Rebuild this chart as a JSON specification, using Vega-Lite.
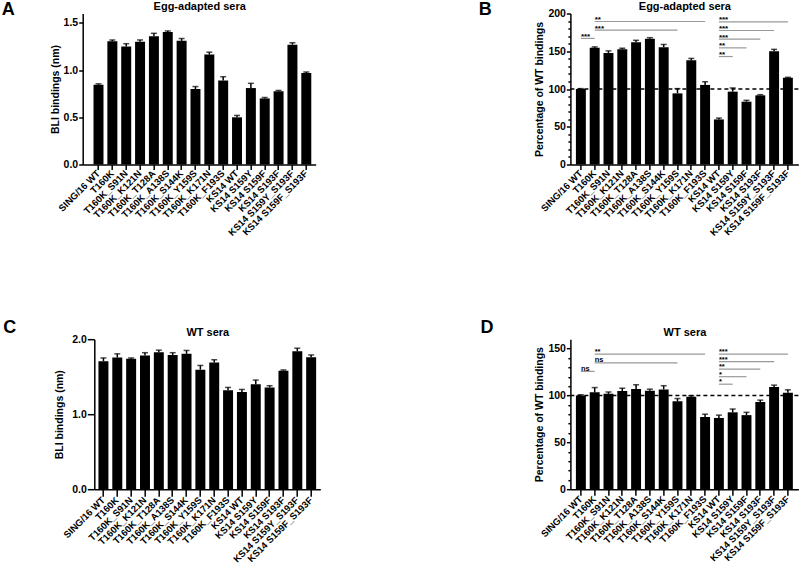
{
  "$schema": "https://vega.github.io/schema/vega-lite/v6.json",
  "background": "white",
  "padding": {"left": 1.7, "top": 0.5, "right": 0, "bottom": 0},
  "datasets": {
    "bars": [
      {"panel": "A", "label": "SING/16 WT", "value": 0.845, "upper": 0.855},
      {"panel": "A", "label": "T160K", "value": 1.305, "upper": 1.32},
      {"panel": "A", "label": "T160K_S91N", "value": 1.25, "upper": 1.28},
      {"panel": "A", "label": "T160K_K121N", "value": 1.30, "upper": 1.32},
      {"panel": "A", "label": "T160K_T128A", "value": 1.36, "upper": 1.39},
      {"panel": "A", "label": "T160K_A138S", "value": 1.405, "upper": 1.415},
      {"panel": "A", "label": "T160K_S144K", "value": 1.31, "upper": 1.335},
      {"panel": "A", "label": "T160K_Y159S", "value": 0.80, "upper": 0.826},
      {"panel": "A", "label": "T160K_K171N", "value": 1.165, "upper": 1.19},
      {"panel": "A", "label": "T160K_F193S", "value": 0.89, "upper": 0.93},
      {"panel": "A", "label": "KS14 WT", "value": 0.50, "upper": 0.52},
      {"panel": "A", "label": "KS14 S159Y", "value": 0.81, "upper": 0.86},
      {"panel": "A", "label": "KS14 S159F", "value": 0.70, "upper": 0.71},
      {"panel": "A", "label": "KS14 S193F", "value": 0.776, "upper": 0.785},
      {"panel": "A", "label": "KS14 S159Y_S193F", "value": 1.27, "upper": 1.29},
      {"panel": "A", "label": "KS14 S159F_S193F", "value": 0.97, "upper": 0.98},
      {"panel": "B", "label": "SING/16 WT", "value": 100, "upper": 100.5},
      {"panel": "B", "label": "T160K", "value": 154.5, "upper": 155.8},
      {"panel": "B", "label": "T160K_S91N", "value": 147.8, "upper": 150.5},
      {"panel": "B", "label": "T160K_K121N", "value": 152.6, "upper": 154},
      {"panel": "B", "label": "T160K_T128A", "value": 162, "upper": 164.5},
      {"panel": "B", "label": "T160K_A138S", "value": 166.4, "upper": 168},
      {"panel": "B", "label": "T160K_S144K", "value": 155.3, "upper": 159},
      {"panel": "B", "label": "T160K_Y159S", "value": 94.2, "upper": 100.5},
      {"panel": "B", "label": "T160K_K171N", "value": 138, "upper": 140.5},
      {"panel": "B", "label": "T160K_F193S", "value": 105.4, "upper": 109.6},
      {"panel": "B", "label": "KS14 WT", "value": 59.7, "upper": 61.5},
      {"panel": "B", "label": "KS14 S159Y", "value": 96.5, "upper": 101.4},
      {"panel": "B", "label": "KS14 S159F", "value": 83.2, "upper": 85},
      {"panel": "B", "label": "KS14 S193F", "value": 91.6, "upper": 92.5},
      {"panel": "B", "label": "KS14 S159Y_S193F", "value": 150, "upper": 152.5},
      {"panel": "B", "label": "KS14 S159F_S193F", "value": 115, "upper": 115.5},
      {"panel": "C", "label": "SING/16 WT", "value": 1.707, "upper": 1.75},
      {"panel": "C", "label": "T160K", "value": 1.756, "upper": 1.805},
      {"panel": "C", "label": "T160K_S91N", "value": 1.739, "upper": 1.75},
      {"panel": "C", "label": "T160K_K121N", "value": 1.783, "upper": 1.82},
      {"panel": "C", "label": "T160K_T128A", "value": 1.827, "upper": 1.854},
      {"panel": "C", "label": "T160K_A138S", "value": 1.79, "upper": 1.82},
      {"panel": "C", "label": "T160K_S144K", "value": 1.805, "upper": 1.85},
      {"panel": "C", "label": "T160K_Y159S", "value": 1.593, "upper": 1.65},
      {"panel": "C", "label": "T160K_K171N", "value": 1.69, "upper": 1.726},
      {"panel": "C", "label": "T160K_F193S", "value": 1.32, "upper": 1.357},
      {"panel": "C", "label": "KS14 WT", "value": 1.295, "upper": 1.33},
      {"panel": "C", "label": "KS14 S159Y", "value": 1.40, "upper": 1.455},
      {"panel": "C", "label": "KS14 S159F", "value": 1.357, "upper": 1.38},
      {"panel": "C", "label": "KS14 S193F", "value": 1.58, "upper": 1.59},
      {"panel": "C", "label": "KS14 S159Y_S193F", "value": 1.84, "upper": 1.88},
      {"panel": "C", "label": "KS14 S159F_S193F", "value": 1.76, "upper": 1.79},
      {"panel": "D", "label": "SING/16 WT", "value": 100, "upper": 100.7},
      {"panel": "D", "label": "T160K", "value": 103.4, "upper": 108.4},
      {"panel": "D", "label": "T160K_S91N", "value": 101.7, "upper": 103.7},
      {"panel": "D", "label": "T160K_K121N", "value": 104.7, "upper": 107.7},
      {"panel": "D", "label": "T160K_T128A", "value": 107, "upper": 111.4},
      {"panel": "D", "label": "T160K_A138S", "value": 105, "upper": 106.7},
      {"panel": "D", "label": "T160K_S144K", "value": 106.4, "upper": 110.4},
      {"panel": "D", "label": "T160K_Y159S", "value": 93.7, "upper": 96.7},
      {"panel": "D", "label": "T160K_K171N", "value": 98.7, "upper": 99.7},
      {"panel": "D", "label": "T160K_F193S", "value": 77, "upper": 80},
      {"panel": "D", "label": "KS14 WT", "value": 76, "upper": 79},
      {"panel": "D", "label": "KS14 S159Y", "value": 82, "upper": 85.5},
      {"panel": "D", "label": "KS14 S159F", "value": 79, "upper": 82},
      {"panel": "D", "label": "KS14 S193F", "value": 93, "upper": 95},
      {"panel": "D", "label": "KS14 S159Y_S193F", "value": 109, "upper": 111},
      {"panel": "D", "label": "KS14 S159F_S193F", "value": 103, "upper": 106}
    ],
    "sig": [
      {"panel": "B", "start": "SING/16 WT", "end": "T160K", "y": 167, "label": "***"},
      {"panel": "B", "start": "T160K", "end": "T160K_Y159S", "y": 178, "label": "***"},
      {"panel": "B", "start": "T160K", "end": "T160K_F193S", "y": 189.4, "label": "**"},
      {"panel": "B", "start": "KS14 WT", "end": "KS14 S159F_S193F", "y": 189, "label": "***"},
      {"panel": "B", "start": "KS14 WT", "end": "KS14 S159Y_S193F", "y": 177.5, "label": "***"},
      {"panel": "B", "start": "KS14 WT", "end": "KS14 S193F", "y": 166, "label": "***"},
      {"panel": "B", "start": "KS14 WT", "end": "KS14 S159F", "y": 154.5, "label": "**"},
      {"panel": "B", "start": "KS14 WT", "end": "KS14 S159Y", "y": 143, "label": "**"},
      {"panel": "D", "start": "SING/16 WT", "end": "T160K", "y": 125.7, "label": "ns"},
      {"panel": "D", "start": "T160K", "end": "T160K_Y159S", "y": 134.7, "label": "ns"},
      {"panel": "D", "start": "T160K", "end": "T160K_F193S", "y": 144, "label": "**"},
      {"panel": "D", "start": "KS14 WT", "end": "KS14 S159F_S193F", "y": 144, "label": "***"},
      {"panel": "D", "start": "KS14 WT", "end": "KS14 S159Y_S193F", "y": 136, "label": "***"},
      {"panel": "D", "start": "KS14 WT", "end": "KS14 S193F", "y": 128, "label": "**"},
      {"panel": "D", "start": "KS14 WT", "end": "KS14 S159F", "y": 120, "label": "*"},
      {"panel": "D", "start": "KS14 WT", "end": "KS14 S159Y", "y": 112, "label": "*"}
    ]
  },
  "config": {
    "view": {"stroke": null},
    "font": "Liberation Sans",
    "axis": {
      "grid": false,
      "domainColor": "black", "domainWidth": 1.5,
      "tickColor": "black", "tickWidth": 1.5,
      "labelColor": "black", "labelFont": "Liberation Sans", "labelFontWeight": "bold", "labelFontSize": 10.5,
      "titleColor": "black", "titleFont": "Liberation Sans", "titleFontWeight": "bold", "titleFontSize": 10.5
    },
    "title": {"fontSize": 18, "fontWeight": "bold", "color": "black", "font": "Liberation Sans", "anchor": "start", "frame": "group", "baseline": "alphabetic"}
  },
  "columns": 2,
  "bounds": "flush",
  "spacing": {"row": 174.7, "column": 249.7},
  "concat": [
    {
      "width": 233, "height": 151,
      "title": {"text": "A", "dx": -81, "offset": -18.3},
      "data": {"name": "bars"},
      "transform": [{"filter": "datum.panel === 'A'"}],
      "layer": [
        {
          "mark": {"type": "bar", "color": "black"},
          "encoding": {
            "x": {"field": "label", "type": "nominal",
              "scale": {"domain": ["SING/16 WT","T160K","T160K_S91N","T160K_K121N","T160K_T128A","T160K_A138S","T160K_S144K","T160K_Y159S","T160K_K171N","T160K_F193S","KS14 WT","KS14 S159Y","KS14 S159F","KS14 S193F","KS14 S159Y_S193F","KS14 S159F_S193F"], "paddingInner": 0.28, "paddingOuter": 0.55, "align": 0.71},
              "axis": {"orient": "bottom", "title": null, "labelAngle": -45, "labelAlign": "right", "labelBaseline": "middle", "labelFontSize": 9.5, "tickSize": 5, "labelPadding": 2, "labelOverlap": false}},
            "y": {"field": "value", "type": "quantitative", "title": "BLI bindings (nm)",
              "scale": {"domain": [0, 1.5]},
              "axis": {"values": [0, 0.5, 1, 1.5], "format": ".1f", "tickSize": 4, "labelPadding": 1, "titlePadding": 3, "labelOverlap": false}}
          }
        },
        {
          "mark": {"type": "rule", "color": "black", "strokeWidth": 1.5},
          "encoding": {
            "x": {"field": "label", "type": "nominal", "axis": null},
            "y": {"field": "value", "type": "quantitative", "title": "BLI bindings (nm)"},
            "y2": {"field": "upper"}
          }
        },
        {
          "mark": {"type": "tick", "color": "black", "thickness": 1.5, "size": 6},
          "encoding": {
            "x": {"field": "label", "type": "nominal",
              "axis": {"orient": "top", "domain": false, "ticks": false, "labels": false, "minExtent": 0, "maxExtent": 0, "title": "Egg-adapted sera", "titlePadding": 2, "titleFontSize": 11}},
            "y": {"field": "upper", "type": "quantitative", "title": "BLI bindings (nm)"}
          }
        }
      ],
      "resolve": {"axis": {"x": "independent"}}
    },
    {
      "width": 228, "height": 151,
      "title": {"text": "B", "dx": -91.7, "offset": -18.3},
      "layer": [
        {
          "data": {"name": "bars"},
          "transform": [{"filter": "datum.panel === 'B'"}],
          "mark": {"type": "bar", "color": "black"},
          "encoding": {
            "x": {"field": "label", "type": "nominal",
              "scale": {"domain": ["SING/16 WT","T160K","T160K_S91N","T160K_K121N","T160K_T128A","T160K_A138S","T160K_S144K","T160K_Y159S","T160K_K171N","T160K_F193S","KS14 WT","KS14 S159Y","KS14 S159F","KS14 S193F","KS14 S159Y_S193F","KS14 S159F_S193F"], "paddingInner": 0.28, "paddingOuter": 0.4},
              "axis": {"orient": "bottom", "title": null, "labelAngle": -45, "labelAlign": "right", "labelBaseline": "middle", "labelFontSize": 9.5, "tickSize": 5, "labelPadding": 2, "labelOverlap": false}},
            "y": {"field": "value", "type": "quantitative", "title": "Percentage of WT bindings",
              "scale": {"domain": [0, 200]},
              "axis": {"orient": "left", "values": [0, 50, 100, 150, 200], "tickSize": 4, "labelPadding": 1, "titlePadding": 3, "labelOverlap": false}}
          }
        },
        {
          "data": {"name": "bars"},
          "transform": [{"filter": "datum.panel === 'B'"}],
          "mark": {"type": "rule", "color": "black", "strokeWidth": 1.5},
          "encoding": {
            "x": {"field": "label", "type": "nominal", "axis": null},
            "y": {"field": "value", "type": "quantitative", "axis": null},
            "y2": {"field": "upper"}
          }
        },
        {
          "data": {"name": "bars"},
          "transform": [{"filter": "datum.panel === 'B'"}],
          "mark": {"type": "tick", "color": "black", "thickness": 1.5, "size": 6},
          "encoding": {
            "x": {"field": "label", "type": "nominal",
              "axis": {"orient": "top", "domain": false, "ticks": false, "labels": false, "minExtent": 0, "maxExtent": 0, "title": "Egg-adapted sera", "titlePadding": 2, "titleFontSize": 11}},
            "y": {"field": "upper", "type": "quantitative",
              "axis": {"orient": "left", "values": [10,20,30,40,60,70,80,90,110,120,130,140,160,170,180,190], "labels": false, "domain": false, "tickSize": 2.5, "title": null, "minExtent": 0, "maxExtent": 0}}
          }
        },
        {
          "data": {"values": [{"ref": 100}]},
          "mark": {"type": "rule", "color": "black", "strokeWidth": 1.5, "strokeDash": [4, 3]},
          "encoding": {
            "y": {"field": "ref", "type": "quantitative", "axis": null}
          }
        },
        {
          "data": {"name": "sig"},
          "transform": [{"filter": "datum.panel === 'B'"}],
          "mark": {"type": "rule", "color": "#999999", "strokeWidth": 1.2},
          "encoding": {
            "x": {"field": "start", "type": "nominal", "axis": null},
            "x2": {"field": "end"},
            "y": {"field": "y", "type": "quantitative", "axis": null}
          }
        },
        {
          "data": {"name": "sig"},
          "transform": [{"filter": "datum.panel === 'B'"}],
          "mark": {"type": "text", "align": "left", "baseline": "alphabetic", "dy": 0.5, "fontSize": 8, "fontWeight": "bold", "color": "black"},
          "encoding": {
            "x": {"field": "start", "type": "nominal", "axis": null},
            "y": {"field": "y", "type": "quantitative", "axis": null},
            "text": {"field": "label"}
          }
        }
      ],
      "resolve": {"axis": {"x": "independent", "y": "independent"}}
    },
    {
      "width": 237.6, "height": 150,
      "title": {"text": "C", "dx": -79.4, "offset": -10.6},
      "data": {"name": "bars"},
      "transform": [{"filter": "datum.panel === 'C'"}],
      "layer": [
        {
          "mark": {"type": "bar", "color": "black"},
          "encoding": {
            "x": {"field": "label", "type": "nominal",
              "scale": {"domain": ["SING/16 WT","T160K","T160K_S91N","T160K_K121N","T160K_T128A","T160K_A138S","T160K_S144K","T160K_Y159S","T160K_K171N","T160K_F193S","KS14 WT","KS14 S159Y","KS14 S159F","KS14 S193F","KS14 S159Y_S193F","KS14 S159F_S193F"], "range": [11.6, 237.6], "paddingInner": 0.28, "paddingOuter": 0.3},
              "axis": {"orient": "bottom", "title": null, "labelAngle": -45, "labelAlign": "right", "labelBaseline": "middle", "labelFontSize": 9.5, "tickSize": 7, "labelPadding": 2, "labelOverlap": false}},
            "y": {"field": "value", "type": "quantitative", "title": "BLI bindings (nm)",
              "scale": {"domain": [0, 2]},
              "axis": {"offset": -11.6, "values": [0, 0.5, 1, 1.5, 2], "format": ".1f", "tickSize": 7, "labelPadding": 1, "titlePadding": 7, "labelOverlap": false}}
          }
        },
        {
          "mark": {"type": "rule", "color": "black", "strokeWidth": 1.5},
          "encoding": {
            "x": {"field": "label", "type": "nominal", "axis": null},
            "y": {"field": "value", "type": "quantitative", "title": "BLI bindings (nm)"},
            "y2": {"field": "upper"}
          }
        },
        {
          "mark": {"type": "tick", "color": "black", "thickness": 1.5, "size": 6},
          "encoding": {
            "x": {"field": "label", "type": "nominal",
              "axis": {"orient": "top", "domain": false, "ticks": false, "labels": false, "minExtent": 0, "maxExtent": 0, "title": "WT sera", "titlePadding": 2, "titleFontSize": 11}},
            "y": {"field": "upper", "type": "quantitative", "title": "BLI bindings (nm)"}
          }
        }
      ],
      "resolve": {"axis": {"x": "independent"}}
    },
    {
      "width": 228, "height": 150,
      "title": {"text": "D", "dx": -90, "offset": -10.6},
      "layer": [
        {
          "data": {"name": "bars"},
          "transform": [{"filter": "datum.panel === 'D'"}],
          "mark": {"type": "bar", "color": "black"},
          "encoding": {
            "x": {"field": "label", "type": "nominal",
              "scale": {"domain": ["SING/16 WT","T160K","T160K_S91N","T160K_K121N","T160K_T128A","T160K_A138S","T160K_S144K","T160K_Y159S","T160K_K171N","T160K_F193S","KS14 WT","KS14 S159Y","KS14 S159F","KS14 S193F","KS14 S159Y_S193F","KS14 S159F_S193F"], "paddingInner": 0.28, "paddingOuter": 0.4},
              "axis": {"orient": "bottom", "title": null, "labelAngle": -45, "labelAlign": "right", "labelBaseline": "middle", "labelFontSize": 9.5, "tickSize": 6, "labelPadding": 2, "labelOverlap": false}},
            "y": {"field": "value", "type": "quantitative", "title": "Percentage of WT bindings",
              "scale": {"domain": [0, 150]},
              "axis": {"orient": "left", "values": [0, 50, 100, 150], "tickSize": 4, "labelPadding": 1, "titlePadding": 3, "labelOverlap": false}}
          }
        },
        {
          "data": {"name": "bars"},
          "transform": [{"filter": "datum.panel === 'D'"}],
          "mark": {"type": "rule", "color": "black", "strokeWidth": 1.5},
          "encoding": {
            "x": {"field": "label", "type": "nominal", "axis": null},
            "y": {"field": "value", "type": "quantitative", "axis": null},
            "y2": {"field": "upper"}
          }
        },
        {
          "data": {"name": "bars"},
          "transform": [{"filter": "datum.panel === 'D'"}],
          "mark": {"type": "tick", "color": "black", "thickness": 1.5, "size": 6},
          "encoding": {
            "x": {"field": "label", "type": "nominal",
              "axis": {"orient": "top", "domain": false, "ticks": false, "labels": false, "minExtent": 0, "maxExtent": 0, "title": "WT sera", "titlePadding": 2, "titleFontSize": 11}},
            "y": {"field": "upper", "type": "quantitative",
              "axis": {"orient": "left", "values": [10,20,30,40,60,70,80,90,110,120,130,140], "labels": false, "domain": false, "tickSize": 2.5, "title": null, "minExtent": 0, "maxExtent": 0}}
          }
        },
        {
          "data": {"values": [{"ref": 100}]},
          "mark": {"type": "rule", "color": "black", "strokeWidth": 1.5, "strokeDash": [4, 3]},
          "encoding": {
            "y": {"field": "ref", "type": "quantitative", "axis": null}
          }
        },
        {
          "data": {"name": "sig"},
          "transform": [{"filter": "datum.panel === 'D'"}],
          "mark": {"type": "rule", "color": "#999999", "strokeWidth": 1.2},
          "encoding": {
            "x": {"field": "start", "type": "nominal", "axis": null},
            "x2": {"field": "end"},
            "y": {"field": "y", "type": "quantitative", "axis": null}
          }
        },
        {
          "data": {"name": "sig"},
          "transform": [{"filter": "datum.panel === 'D' && datum.label !== 'ns'"}],
          "mark": {"type": "text", "align": "left", "baseline": "alphabetic", "dy": 0, "fontSize": 7.5, "fontWeight": "bold", "color": "black"},
          "encoding": {
            "x": {"field": "start", "type": "nominal", "axis": null},
            "y": {"field": "y", "type": "quantitative", "axis": null},
            "text": {"field": "label"}
          }
        },
        {
          "data": {"name": "sig"},
          "transform": [{"filter": "datum.panel === 'D' && datum.label === 'ns'"}],
          "mark": {"type": "text", "align": "left", "baseline": "alphabetic", "dy": -0.8, "fontSize": 7.5, "fontWeight": "bold", "color": "black"},
          "encoding": {
            "x": {"field": "start", "type": "nominal", "axis": null},
            "y": {"field": "y", "type": "quantitative", "axis": null},
            "text": {"field": "label"}
          }
        }
      ],
      "resolve": {"axis": {"x": "independent", "y": "independent"}}
    }
  ]
}
